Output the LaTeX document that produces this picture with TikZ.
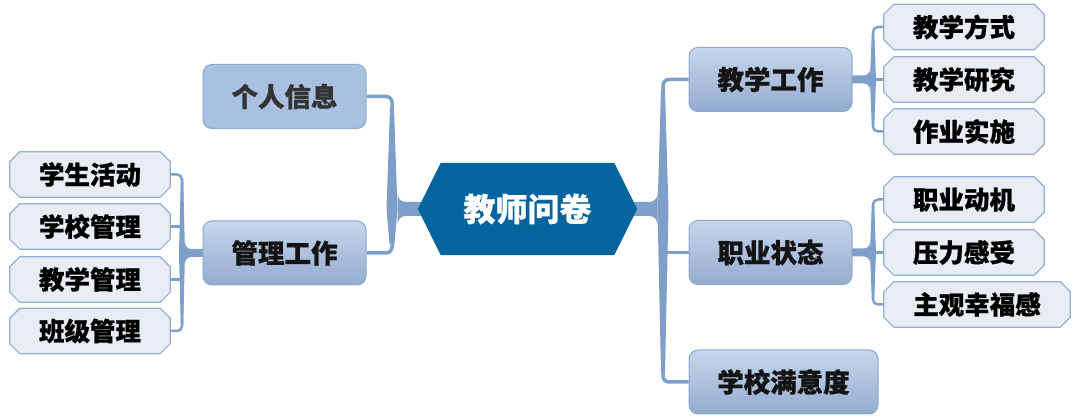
\documentclass[tikz,border=0pt]{standalone}
\usepackage{fontspec}
\newfontfamily\cjk{Noto Sans CJK SC}[BoldFeatures={FakeBold=0.8}]
\usetikzlibrary{calc}
\pgfdeclarelayer{background}
\pgfsetlayers{background,main}
\definecolor{conn}{HTML}{7E9FC9}
\definecolor{hexblue}{HTML}{03649E}
\definecolor{leaffill}{HTML}{E8ECF3}
\definecolor{leafline}{HTML}{93AFD5}
\definecolor{branchtop}{HTML}{C7D6EB}
\definecolor{branchbot}{HTML}{94ACD0}
\definecolor{branchline}{HTML}{8BA8D0}
\definecolor{infofill}{HTML}{A9C0E0}
% tapered vertical trunk: x, y0, y1, w0, w1
\newcommand\taperv[5]{\fill[conn] ({#1-#4/2},#2) -- ({#1-#5/2},#3) -- ({#1+#5/2},#3) -- ({#1+#4/2},#2) -- cycle;}
% junction bar: parent x, trunk edge x, y, half thickness, fillet x (signed), fillet y
\newcommand\jbar[6]{\fill[conn] (#1,{#3-#4}) -- ({#2-#5},{#3-#4}) .. controls ({#2-0.35*#5},{#3-#4}) and (#2,{#3-#4-0.5*#6}) .. (#2,{#3-#4-#6}) -- (#2,{#3+#4+#6}) .. controls (#2,{#3+#4+0.5*#6}) and ({#2-0.35*#5},{#3+#4}) .. ({#2-#5},{#3+#4}) -- (#1,{#3+#4}) -- cycle;}
\begin{document}
\begin{tikzpicture}[x=1pt,y=-1pt,
  centertext/.style={text=white, font=\cjk\bfseries\fontsize{32}{36}\selectfont, inner sep=0pt, minimum width=219pt, minimum height=92pt},
  basebox/.style={draw=branchline, line width=1pt, rounded corners=9pt, minimum height=64pt, minimum width=163pt, inner sep=0pt, font=\cjk\bfseries\fontsize{26.5}{30}\selectfont},
  branch/.style={basebox, top color=branchtop, bottom color=branchbot, text=black!92},
  infobox/.style={basebox, fill=infofill, text=black!80},
  leaf/.style={minimum height=45pt, minimum width=160pt, inner sep=0pt, font=\cjk\bfseries\fontsize{25.5}{29}\selectfont, text=black},
  leafshape/.style={fill=leaffill, draw=leafline, line width=1.2pt, line join=miter},
  connline/.style={draw=conn, line width=3.5pt, rounded corners=6pt},
  leafline/.style={draw=conn, line width=2.5pt, rounded corners=5pt},
]
\useasboundingbox (0,0) rectangle (1080,419);
% center
\node[centertext] (c) at (527.5,209) {教师问卷};
% branches
\node[infobox] (grxx) at (284.5,96.5) {个人信息};
\node[branch] (glgz) at (284.5,253) {管理工作};
\node[branch] (jxgz) at (770.5,79.5) {教学工作};
\node[branch] (zyzt) at (770.5,252.5) {职业状态};
\node[branch, minimum width=189pt] (xxmyd) at (783.5,382) {学校满意度};
% leaves left
\node[leaf] (l1) at (90,174.5) {学生活动};
\node[leaf] (l2) at (90,226.5) {学校管理};
\node[leaf] (l3) at (90,279.5) {教学管理};
\node[leaf] (l4) at (90,331) {班级管理};
% leaves right
\node[leaf] (a1) at (964,27) {教学方式};
\node[leaf] (a2) at (964,79.5) {教学研究};
\node[leaf] (a3) at (964,131.5) {作业实施};
\node[leaf] (b1) at (964,199.5) {职业动机};
\node[leaf] (b2) at (964,252.5) {压力感受};
\node[leaf, minimum width=186pt] (b3) at (977,304.5) {主观幸福感};
% junction coordinates
\coordinate (jl) at (392,209);
\coordinate (jr) at (663,209);
\coordinate (jlg) at (182,253);
\coordinate (ja) at (873,79.5);
\coordinate (jb) at (873,252.5);
\begin{pgfonlayer}{background}
  % main right
  \draw[connline] (jr) |- (jxgz.west);
  \draw[connline] (jr) |- (xxmyd.west);
  \draw[connline, line width=3pt] (jr |- zyzt.west) -- (zyzt.west);
  \taperv{663}{209}{90}{11}{4}
  \taperv{663}{209}{372}{11}{4}
  \jbar{630}{657.5}{209}{7}{8}{9}
  % main left
  \draw[connline] (jl) |- (grxx.east);
  \draw[connline] (jl) |- (glgz.east);
  \taperv{392}{209}{108}{11}{4}
  \taperv{392}{209}{244}{11}{5}
  \jbar{425}{397.5}{209}{7}{-8}{9}
  % left leaves
  \draw[leafline] (jlg) |- (l1.east);
  \draw[leafline] (jlg) |- (l4.east);
  \draw[leafline] (jlg |- l2.east) -- (l2.east);
  \draw[leafline] (jlg |- l3.east) -- (l3.east);
  \taperv{182}{253}{182}{6}{2.5}
  \taperv{182}{253}{324}{6}{2.5}
  \jbar{205}{185}{253}{4}{-6}{7}
  % right leaves a
  \draw[leafline] (ja) |- (a1.west);
  \draw[leafline] (ja) |- (a3.west);
  \draw[leafline] (jxgz.east) -- (a2.west);
  \taperv{873}{79.5}{34}{6}{2.5}
  \taperv{873}{79.5}{125}{6}{2.5}
  \jbar{850}{870}{79.5}{4}{6}{7}
  % right leaves b
  \draw[leafline] (jb) |- (b1.west);
  \draw[leafline] (jb) |- (b3.west);
  \draw[leafline] (zyzt.east) -- (b2.west);
  \taperv{873}{252.5}{206}{6}{2.5}
  \taperv{873}{252.5}{298}{6}{2.5}
  \jbar{850}{870}{252.5}{4}{6}{7}
  % hexagon
  \fill[hexblue] (c.west) -- ($(c.north west)+(23,0)$) -- ($(c.north east)+(-23,0)$) -- (c.east) -- ($(c.south east)+(-23,0)$) -- ($(c.south west)+(23,0)$) -- cycle;
  % leaf shapes
  \foreach \n in {l1,l2,l3,l4,a1,a2,a3,b1,b2,b3}{
    \path[leafshape] ($(\n.north west)+(10,0)$) -- ($(\n.north east)+(-10,0)$) -- ($(\n.north east)+(0,10)$) -- ($(\n.south east)+(0,-10)$) -- ($(\n.south east)+(-10,0)$) -- ($(\n.south west)+(10,0)$) -- ($(\n.south west)+(0,-10)$) -- ($(\n.north west)+(0,10)$) -- cycle;
  }
\end{pgfonlayer}
\end{tikzpicture}
\end{document}
